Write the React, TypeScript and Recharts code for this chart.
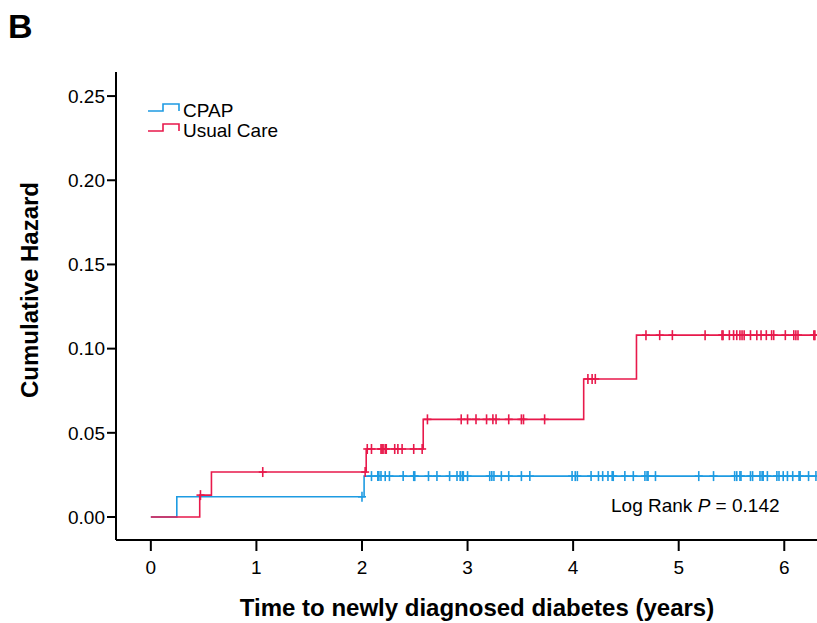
import React from "react";
import { ComposedChart, Line, Scatter, XAxis, YAxis } from "recharts";

const X_TICKS = [0, 1, 2, 3, 4, 5, 6];
const Y_TICKS = [0, 0.05, 0.1, 0.15, 0.2, 0.25];

// Step functions (time in years, cumulative hazard)
const cpapTimes = [0, 0.246, 2.02, 6.31];
const cpapHazard = [0, 0.012, 0.0243, 0.0243];
const usualTimes = [0, 0.463, 0.574, 2.04, 2.58, 4.1, 4.6, 6.31];
const usualHazard = [0, 0.013, 0.0267, 0.0404, 0.058, 0.082, 0.108, 0.108];

// Censored observations (time in years)
const cpapCensor = [
  2.0, 2.09, 2.15, 2.16, 2.18, 2.22, 2.26, 2.39, 2.49, 2.5, 2.63, 2.71, 2.83, 2.9, 2.93, 2.95,
  2.96, 3.0, 3.21, 3.23, 3.25, 3.32, 3.39, 3.51, 3.59, 3.99, 4.02, 4.04, 4.17, 4.24, 4.28,
  4.33, 4.37, 4.38, 4.49, 4.57, 4.68, 4.7, 4.71, 4.78, 5.19, 5.33, 5.53, 5.55, 5.58, 5.59,
  5.68, 5.7, 5.77, 5.79, 5.8, 5.84, 5.93, 5.95, 5.99, 6.03, 6.08, 6.14, 6.15, 6.23, 6.3,
];
const usualCensor = [
  0.47, 1.06, 2.03, 2.05, 2.09, 2.18, 2.19, 2.2, 2.22, 2.23, 2.31, 2.34, 2.38, 2.49, 2.57,
  2.62, 2.94, 3.0, 3.08, 3.18, 3.24, 3.27, 3.39, 3.51, 3.53, 3.73, 4.14, 4.18, 4.21, 4.69,
  4.82, 4.94, 5.25, 5.41, 5.42, 5.48, 5.52, 5.55, 5.58, 5.6, 5.62, 5.68, 5.74, 5.78, 5.83,
  5.88, 5.9, 6.01, 6.09, 6.11, 6.13, 6.28, 6.29,
];

const BLUE = "#1E9BE2";
const RED = "#E8194B";
const FONT = "'Liberation Sans', Arial, Helvetica, sans-serif";

const toSteps = (ts: number[], hs: number[]) => ts.map((t, i) => ({ t, h: hs[i] }));
const levelAt = (ts: number[], hs: number[], t: number) => {
  let h = hs[0];
  for (let i = 0; i < ts.length; i++) if (ts[i] <= t) h = hs[i];
  return h;
};
const toCensor = (cs: number[], ts: number[], hs: number[]) =>
  cs.map((t) => ({ t, h: levelAt(ts, hs, t) }));

const cpapData = toSteps(cpapTimes, cpapHazard);
const usualData = toSteps(usualTimes, usualHazard);
const cpapCensorData = toCensor(cpapCensor, cpapTimes, cpapHazard);
const usualCensorData = toCensor(usualCensor, usualTimes, usualHazard);

const makeCross = (color: string) => (props: any) => {
  const { cx, cy } = props;
  if (cx == null || cy == null) return <g />;
  return (
    <g>
      <line x1={cx} y1={cy - 5} x2={cx} y2={cy + 5} stroke={color} strokeWidth={1.6} />
      <line x1={cx - 4} y1={cy} x2={cx + 4} y2={cy} stroke={color} strokeWidth={1.6} />
    </g>
  );
};

export default function App() {
  return (
    <div style={{ position: "absolute", left: 0, top: 0, width: 817, height: 623, background: "#fff" }}>
      <ComposedChart
        width={817}
        height={623}
        margin={{ top: 72, right: 0, bottom: 0, left: 0 }}
        style={{ fontFamily: FONT }}
      >
        <XAxis
          type="number"
          dataKey="t"
          domain={[-0.33, 6.31]}
          allowDataOverflow
          ticks={X_TICKS}
          height={83}
          tickSize={11}
          tickMargin={10}
          axisLine={{ stroke: "#000", strokeWidth: 2 }}
          tickLine={{ stroke: "#000", strokeWidth: 2 }}
          tick={{ fill: "#000", fontSize: 19, fontFamily: FONT }}
        />
        <YAxis
          type="number"
          dataKey="h"
          domain={[-0.01366, 0.2643]}
          allowDataOverflow
          ticks={Y_TICKS}
          width={116}
          tickSize={9}
          tickMargin={2}
          tickFormatter={(v: number) => v.toFixed(2)}
          axisLine={{ stroke: "#000", strokeWidth: 2 }}
          tickLine={{ stroke: "#000", strokeWidth: 2 }}
          tick={{ fill: "#000", fontSize: 19, fontFamily: FONT }}
        />
        <Line
          data={cpapData}
          dataKey="h"
          type="stepAfter"
          stroke={BLUE}
          strokeWidth={1.6}
          dot={false}
          isAnimationActive={false}
        />
        <Line
          data={usualData}
          dataKey="h"
          type="stepAfter"
          stroke={RED}
          strokeWidth={1.6}
          dot={false}
          isAnimationActive={false}
        />
        <Scatter data={cpapCensorData} dataKey="h" shape={makeCross(BLUE)} isAnimationActive={false} />
        <Scatter data={usualCensorData} dataKey="h" shape={makeCross(RED)} isAnimationActive={false} />
      </ComposedChart>
      <svg
        width={817}
        height={623}
        style={{ position: "absolute", left: 0, top: 0, pointerEvents: "none" }}
        fontFamily={FONT}
      >
        <text x={8} y={38} fontSize={34} fontWeight="bold" fill="#000">B</text>
        <text
          transform="translate(38,290) rotate(-90)"
          textAnchor="middle"
          fontSize={24}
          fontWeight="bold"
          fill="#000"
        >
          Cumulative Hazard
        </text>
        <text x={477} y={616} textAnchor="middle" fontSize={24} fontWeight="bold" fill="#000">
          Time to newly diagnosed diabetes (years)
        </text>
        <polyline points="148,111 163,111 163,104 179,104 179,111" fill="none" stroke={BLUE} strokeWidth={1.6} />
        <text x={183} y={117} fontSize={19} fill="#000">CPAP</text>
        <polyline points="148,131 163,131 163,124 179,124 179,131" fill="none" stroke={RED} strokeWidth={1.6} />
        <text x={183} y={137} fontSize={19} fill="#000">Usual Care</text>
        <text x={611} y={512} fontSize={19} fill="#000">
          Log Rank <tspan fontStyle="italic">P</tspan> = 0.142
        </text>
      </svg>
    </div>
  );
}
